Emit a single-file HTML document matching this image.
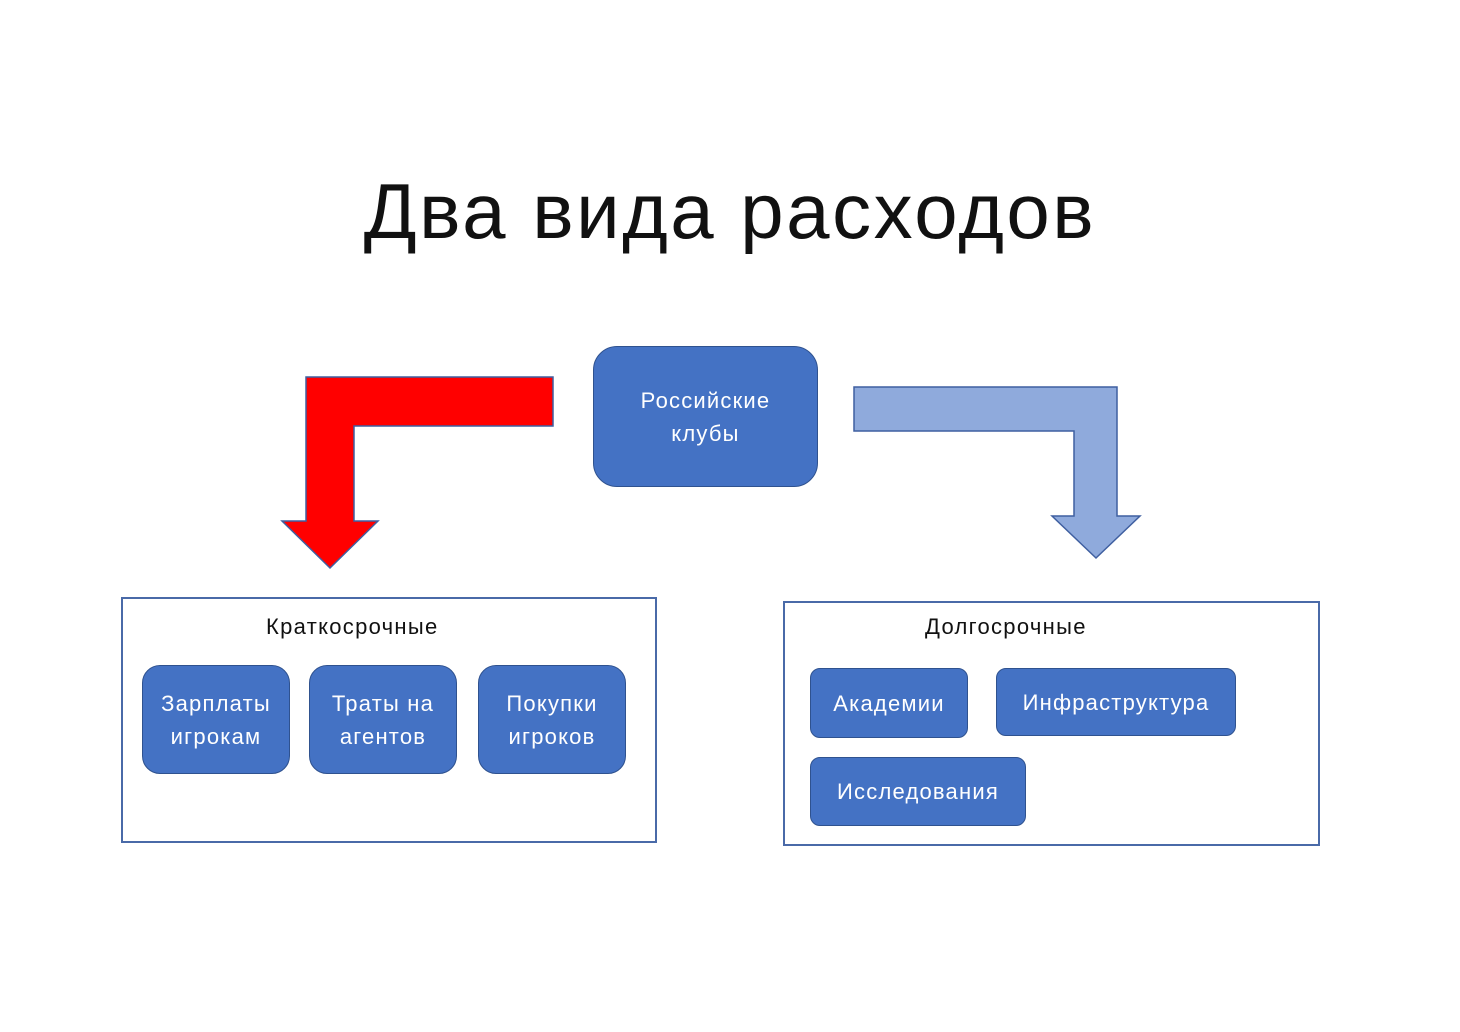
<!DOCTYPE html>
<html><head><meta charset="utf-8"><style>
body{margin:0;width:1460px;height:1032px;background:#fff;position:relative;overflow:hidden;font-family:"Liberation Sans","DejaVu Sans",sans-serif}
.t{position:absolute;left:0;width:1460px;top:166px;text-align:center;font-size:78px;color:#111;letter-spacing:2.5px}
.b{position:absolute;background:#4472c4;border:1.5px solid #2f528f;color:#fff;display:flex;align-items:center;justify-content:center;text-align:center;font-size:22px;line-height:33px;box-sizing:border-box;letter-spacing:1.2px}
.c{position:absolute;border:2px solid #4a6aa8;box-sizing:border-box}
.l{position:absolute;font-size:22px;color:#111;letter-spacing:1.3px}
</style></head><body>
<div class="t">Два вида расходов</div>
<svg width="1460" height="1032" style="position:absolute;left:0;top:0">
<polygon points="306,377 553,377 553,426 354,426 354,521 378,521 330,568 282,521 306,521" fill="#ff0000" stroke="#3f5fa0" stroke-width="1.5"/>
<polygon points="854,387 1117,387 1117,516 1140,516 1096,558 1052,516 1074,516 1074,431 854,431" fill="#8faadc" stroke="#3f5fa0" stroke-width="1.5"/>
</svg>
<div class="b" style="left:593px;top:346px;width:225px;height:141px;border-radius:24px">Российские<br>клубы</div>
<div class="c" style="left:121px;top:597px;width:536px;height:246px"></div>
<div class="c" style="left:783px;top:601px;width:537px;height:245px"></div>
<div class="l" style="left:266px;top:614px">Краткосрочные</div>
<div class="l" style="left:925px;top:614px">Долгосрочные</div>
<div class="b" style="left:142px;top:665px;width:148px;height:109px;border-radius:18px">Зарплаты<br>игрокам</div>
<div class="b" style="left:309px;top:665px;width:148px;height:109px;border-radius:18px">Траты на<br>агентов</div>
<div class="b" style="left:478px;top:665px;width:148px;height:109px;border-radius:18px">Покупки<br>игроков</div>
<div class="b" style="left:810px;top:668px;width:158px;height:70px;border-radius:10px">Академии</div>
<div class="b" style="left:996px;top:668px;width:240px;height:68px;border-radius:10px">Инфраструктура</div>
<div class="b" style="left:810px;top:757px;width:216px;height:69px;border-radius:10px">Исследования</div>
</body></html>
